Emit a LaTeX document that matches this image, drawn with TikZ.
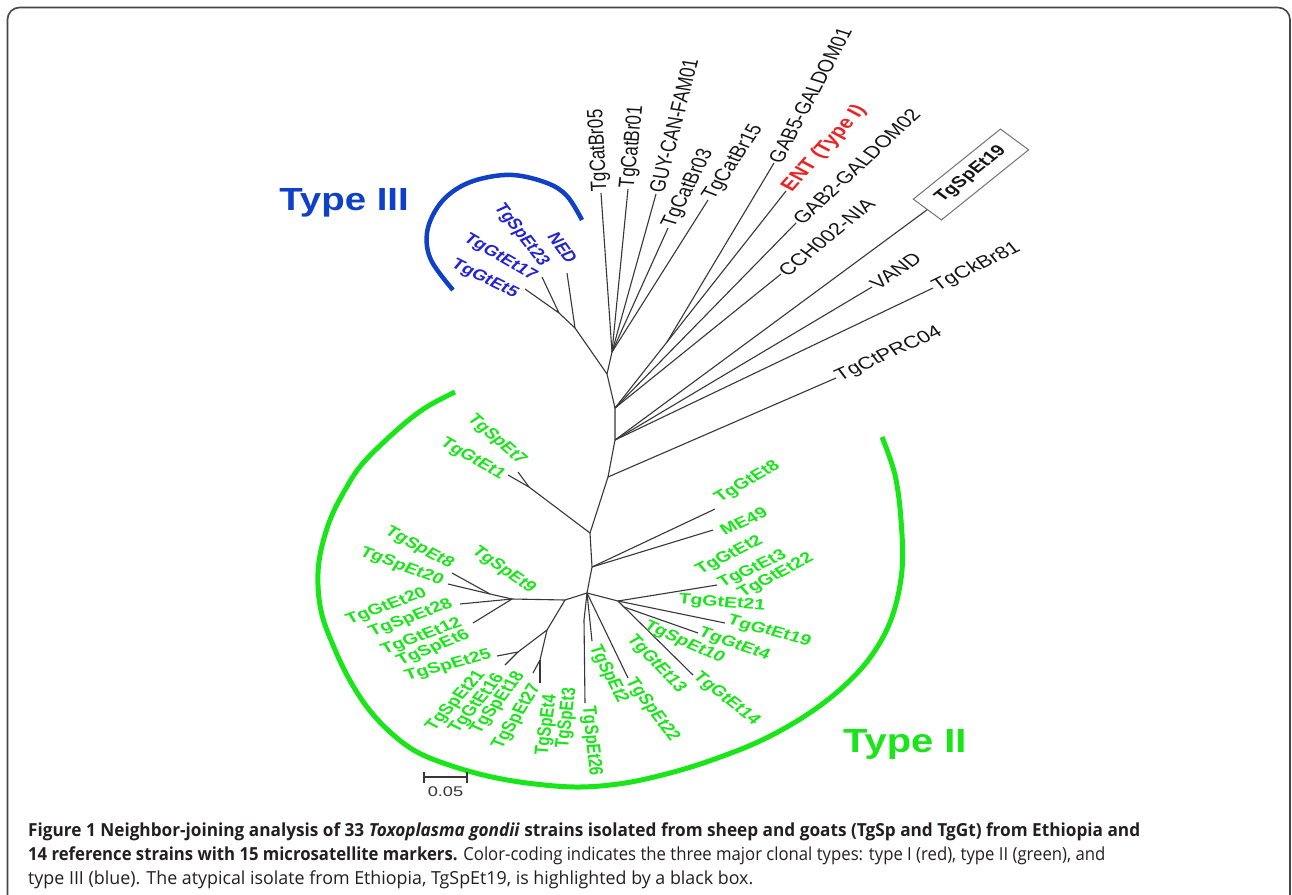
\documentclass[tikz,border=0pt]{standalone}
\usepackage{fontspec}
\usepackage{graphicx}
\setmainfont{Liberation Sans}
\newfontfamily\capfont{Open Sans}
\definecolor{treeg}{RGB}{55,55,55}
\definecolor{lblk}{RGB}{20,20,20}
\definecolor{grn}{RGB}{25,230,25}
\definecolor{blu}{RGB}{35,35,210}
\definecolor{bluarc}{RGB}{15,65,200}
\definecolor{redt}{RGB}{235,35,35}
\definecolor{capc}{RGB}{35,31,32}
\definecolor{framec}{RGB}{70,70,70}
\tikzset{
 br/.style={draw=treeg, line width=1.1pt, line join=round},
 srot/.style={rotate={atan2(sin(#1),cos(#1)/1.3)}},
 blk/.style={transform shape, font=\fontsize{17}{18}\selectfont, text=lblk, inner sep=1pt},
 gl/.style={transform shape, font=\fontsize{15}{16}\selectfont\bfseries, text=grn, inner sep=0pt},
 bl/.style={transform shape, font=\fontsize{15}{16}\selectfont\bfseries, text=blu, inner sep=0pt},
}
\begin{document}
\begin{tikzpicture}[x=1pt,y=-1pt]
\useasboundingbox (0,0) rectangle (1292,894);
\fill[white] (0,0) rectangle (1292,894);
% frame
\draw[framec, line width=1.6pt, rounded corners=12pt] (7.5,900) -- (7.5,7.5) -- (1290,7.5) -- (1290,900);

% internal nodes
\coordinate (J3a) at (559,313);
\coordinate (J3b) at (575,328);
\coordinate (J4) at (607,374);
\coordinate (G1) at (612,352);
\coordinate (J5) at (615,408);
\coordinate (J5b) at (667,342);
\coordinate (J6) at (615,440);
\coordinate (J7) at (608,477);
\coordinate (J8) at (590,533);
\coordinate (J8a) at (529,487);
\coordinate (J9) at (592,567);
\coordinate (M) at (587,593);
\coordinate (LM) at (565,600);
\coordinate (L) at (512,599);
\coordinate (L1) at (490,594);
\coordinate (LL) at (547,630);
\coordinate (LL1) at (518,652);
\coordinate (LL2) at (540,660);
\coordinate (R) at (618,601);
\coordinate (R1) at (624,607);
\coordinate (B1) at (584,620);
% tips
\coordinate (tGt5) at (525,289);
\coordinate (tGt17) at (542,277);
\coordinate (tNED) at (567,273);
\coordinate (tCB05) at (601,193);
\coordinate (tCB01) at (628,189);
\coordinate (tGUY) at (656,194);
\coordinate (tCB03) at (668,228);
\coordinate (tCB15) at (708,200);
\coordinate (tGAB5) at (774,163);
\coordinate (tENT) at (786,191);
\coordinate (tGAB2) at (796,223);
\coordinate (tCCH) at (781,274);
\coordinate (tVAND) at (872,287);
\coordinate (tCk81) at (933,288);
\coordinate (tPRC) at (836,378);
\coordinate (tGt1) at (508,475);
\coordinate (tSp7) at (518,472);
\coordinate (tGt8) at (715,509);
\coordinate (tME49) at (713,530);
\coordinate (tSp8) at (452,573);
\coordinate (tSp20) at (448,584);
\coordinate (tSp28) at (460,604);
\coordinate (tGt12) at (473,623);
\coordinate (tSp25) at (497,656);
\coordinate (tSp21) at (505,665);
\coordinate (tSp18) at (533,673);
\coordinate (tSp4) at (540,683);
\coordinate (tSp26) at (585,703);
\coordinate (tSp2) at (592,641);
\coordinate (tSp22) at (628,678);
\coordinate (tGt2) at (717,585);
\coordinate (tGt19) at (725,623);
\coordinate (tGt4) at (698,633);
\coordinate (tGt14) at (693,675);
\coordinate (boxc) at (970.75,174.5);
% label centres
\coordinate (cGt5) at (484.5,279);
\coordinate (cGt17) at (500,257.5);
\coordinate (cSp23) at (521,235);
\coordinate (cNED) at (562.5,248);
\coordinate (cSp7) at (496.5,440);
\coordinate (cGt1) at (472.5,459.5);
\coordinate (cSp8) at (419,548);
\coordinate (cSp20) at (401.5,566.5);
\coordinate (cSp9) at (503.5,570);
\coordinate (cGt20) at (386.7,606.7);
\coordinate (cSp28) at (410.8,618.3);
\coordinate (cGt12) at (421.7,636.7);
\coordinate (cSp6) at (433.3,648.3);
\coordinate (cSp25) at (448.3,665.8);
\coordinate (cSp21) at (456,701);
\coordinate (cGt16) at (477,704);
\coordinate (cSp18) at (498,703);
\coordinate (cSp27) at (517,717);
\coordinate (cSp4) at (547,725);
\coordinate (cSp3) at (567,718);
\coordinate (cSp26) at (591,741);
\coordinate (cSp2) at (608,674);
\coordinate (cSp22) at (652,710);
\coordinate (cGt13) at (656,664);
\coordinate (cGt14) at (726,699);
\coordinate (cSp10) at (684,642.5);
\coordinate (cGt4) at (734,644.5);
\coordinate (cGt19) at (769,631.5);
\coordinate (cGt21) at (721.7,603.3);
\coordinate (cGt22) at (776,576);
\coordinate (cGt3) at (752.5,569.5);
\coordinate (cGt2) at (729.5,555.5);
\coordinate (cME49) at (743.5,521);
\coordinate (cGt8) at (747.5,482.5);

% clade arcs
\draw[draw=grn, line width=5pt] plot[smooth, tension=0.6] coordinates {(455,392) (425,408) (397,430) (363,463) (345,490) (330,520) (320,555) (318,585) (322,615) (333,645) (348,677) (367,707) (390,732) (417,752) (452,766) (492,777) (535,784) (580,787) (625,783) (670,773) (712,760) (760,741) (805,716) (843,687) (872,655) (892,617) (902,570) (901,520) (895,475) (882,437)};
\draw[draw=bluarc, line width=4.5pt] plot[smooth, tension=0.6] coordinates {(582,220) (567,196) (547,183) (513,175) (480,179) (455,190) (437,208) (427,233) (431,260) (453,290)};

% branches
\draw[br] (tGt5) -- (J3a) -- (tGt17);
\draw[br] (J3a) -- (J3b) -- (tNED);
\draw[br] (J3b) -- (J4) -- (J5) -- (J6) -- (J7) -- (J8) -- (J9) -- (M);
\draw[br] (J4) -- (G1);
\draw[br] (G1) -- (tCB05);
\draw[br] (G1) -- (tCB01);
\draw[br] (G1) -- (tGUY);
\draw[br] (G1) -- (tCB03);
\draw[br] (G1) -- (tCB15);
\draw[br] (J5) -- (J5b) -- (tENT);
\draw[br] (J5b) -- (tGAB5);
\draw[br] (J5) -- (tGAB2);
\draw[br] (J5) -- (tCCH);
\draw[br] (J6) -- (tVAND);
\draw[br] (J6) -- (tCk81);
\draw[br] (J7) -- (tPRC);
\draw[br] (J8) -- (J8a) -- (tGt1);
\draw[br] (J8a) -- (tSp7);
\draw[br] (J9) -- (tGt8);
\draw[br] (J9) -- (tME49);
\draw[br] (M) -- (LM) -- (L) -- (L1) -- (tSp8);
\draw[br] (L1) -- (tSp20);
\draw[br] (L) -- (tSp28);
\draw[br] (L) -- (tGt12);
\draw[br] (LM) -- (LL) -- (LL1) -- (tSp25);
\draw[br] (LL1) -- (tSp21);
\draw[br] (LL) -- (LL2) -- (tSp18);
\draw[br] (LL2) -- (tSp4);
\draw[br] (M) -- (B1) -- (tSp26);
\draw[br] (M) -- (tSp2);
\draw[br] (M) -- (tSp22);
\draw[br] (M) -- (R) -- (tGt2);
\draw[br] (R) -- (tGt19);
\draw[br] (R) -- (R1) -- (tGt4);
\draw[br] (R1) -- (tGt14);

% labels (figure is stretched horizontally)
\begin{scope}[xscale=1.3]
\node[blk, srot=93, anchor=west] (nCB05) at (tCB05) {TgCatBr05};
\node[blk, srot=84, anchor=west] (nCB01) at (tCB01) {TgCatBr01};
\node[blk, srot=75.5, anchor=west] (nGUY) at (tGUY) {GUY-CAN-FAM01};
\node[blk, srot=63, anchor=west] (nCB03) at (tCB03) {TgCatBr03};
\node[blk, srot=56, anchor=west] (nCB15) at (tCB15) {TgCatBr15};
\node[blk, srot=62, anchor=west] (nGAB5) at (tGAB5) {GAB5-GALDOM01};
\node[blk, srot=48, anchor=west, text=redt, font=\fontsize{17.5}{18}\selectfont\bfseries] (nENT) at (tENT) {ENT (Type I)};
\node[blk, srot=43, anchor=west] (nGAB2) at (tGAB2) {GAB2-GALDOM02};
\node[blk, srot=39, anchor=west] (nCCH) at (tCCH) {CCH002-NIA};
\node[blk, srot=34.6, anchor=west] (nVAND) at (tVAND) {VAND};
\node[blk, srot=26, anchor=west] (nCk81) at (tCk81) {TgCkBr81};
\node[blk, srot=24, anchor=west] (nPRC) at (tPRC) {TgCtPRC04};
\node[transform shape, srot=38.8, draw=black!55, line width=1pt, minimum width=97pt, minimum height=30pt, inner sep=0pt, font=\fontsize{15.5}{16}\selectfont\bfseries, text=lblk] (box) at (boxc) {TgSpEt19};
% type III
\node[bl, srot=-26] (nGt5) at (cGt5) {TgGtEt5};
\node[bl, srot=-30] (nGt17) at (cGt17) {TgGtEt17};
\node[bl, srot=-52] (nSp23) at (cSp23) {TgSpEt23};
\node[bl, srot=-54] (nNED) at (cNED) {NED};
% type II
\node[gl, srot=-41] (nSp7) at (cSp7) {TgSpEt7};
\node[gl, srot=-30] (nGt1) at (cGt1) {TgGtEt1};
\node[gl, srot=-28] (nSp8) at (cSp8) {TgSpEt8};
\node[gl, srot=-20] (nSp20) at (cSp20) {TgSpEt20};
\node[gl, srot=-35] (nSp9) at (cSp9) {TgSpEt9};
\node[gl, srot=20] (nGt20) at (cGt20) {TgGtEt20};
\node[gl, srot=20] (nSp28) at (cSp28) {TgSpEt28};
\node[gl, srot=20] (nGt12) at (cGt12) {TgGtEt12};
\node[gl, srot=22] (nSp6) at (cSp6) {TgSpEt6};
\node[gl, srot=15] (nSp25) at (cSp25) {TgSpEt25};
\node[gl, srot=48] (nSp21) at (cSp21) {TgSpEt21};
\node[gl, srot=50] (nGt16) at (cGt16) {TgGtEt16};
\node[gl, srot=53] (nSp18) at (cSp18) {TgSpEt18};
\node[gl, srot=58] (nSp27) at (cSp27) {TgSpEt27};
\node[gl, srot=82] (nSp4) at (cSp4) {TgSpEt4};
\node[gl, srot=83] (nSp3) at (cSp3) {TgSpEt3};
\node[gl, srot=-84] (nSp26) at (cSp26) {TgSpEt26};
\node[gl, srot=-63] (nSp2) at (cSp2) {TgSpEt2};
\node[gl, srot=-53] (nSp22) at (cSp22) {TgSpEt22};
\node[gl, srot=-46] (nGt13) at (cGt13) {TgGtEt13};
\node[gl, srot=-38] (nGt14) at (cGt14) {TgGtEt14};
\node[gl, srot=-24] (nSp10) at (cSp10) {TgSpEt10};
\node[gl, srot=-19] (nGt4) at (cGt4) {TgGtEt4};
\node[gl, srot=-15] (nGt19) at (cGt19) {TgGtEt19};
\node[gl, srot=-4] (nGt21) at (cGt21) {TgGtEt21};
\node[gl, srot=28] (nGt22) at (cGt22) {TgGtEt22};
\node[gl, srot=25] (nGt3) at (cGt3) {TgGtEt3};
\node[gl, srot=27] (nGt2) at (cGt2) {TgGtEt2};
\node[gl, srot=24] (nME49) at (cME49) {ME49};
\node[gl, srot=30] (nGt8) at (cGt8) {TgGtEt8};
\end{scope}
\draw[br] (J6) -- (box.west);

% clade names
\node[anchor=base east, inner sep=0pt, text=bluarc, font=\fontsize{32}{32}\selectfont\bfseries] (t3) at (409,210) {\scalebox{1.2}[1]{Type III}};
\node[anchor=base west, inner sep=0pt, text=grn, font=\fontsize{33.5}{34}\selectfont\bfseries] (t2) at (843,752) {\scalebox{1.19}[1]{Type II}};

% scale bar
\coordinate (sbL) at (424,777);
\coordinate (sbR) at (467,777);
\draw[treeg, line width=1.3pt] (sbL) -- (sbR);
\draw[treeg, line width=1.3pt] (424,771.5) -- (424,782.5);
\draw[treeg, line width=1.3pt] (467,771.5) -- (467,782.5);
\node[inner sep=0pt, text=treeg, font=\fontsize{14}{14}\selectfont] (sbt) at (445.5,792) {\scalebox{1.3}[1]{0.05}};

% caption
\node[anchor=base west, inner sep=0pt, text=capc, font=\capfont\fontsize{18}{18}\selectfont] (cap1) at (28,836) {\resizebox{1112pt}{\height}{\bfseries Figure 1 Neighbor-joining analysis of 33 \textit{Toxoplasma gondii} strains isolated from sheep and goats (TgSp and TgGt) from Ethiopia and}};
\node[anchor=base west, inner sep=0pt, text=capc, font=\capfont\fontsize{18}{18}\selectfont] (cap2) at (28,860) {\resizebox{1077pt}{\height}{\textbf{14 reference strains with 15 microsatellite markers.} Color-coding indicates the three major clonal types: type I (red), type II (green), and}};
\node[anchor=base west, inner sep=0pt, text=capc, font=\capfont\fontsize{18}{18}\selectfont] (cap3) at (28,884) {\resizebox{725pt}{\height}{type III (blue). The atypical isolate from Ethiopia, TgSpEt19, is highlighted by a black box.}};
\end{tikzpicture}
\end{document}
